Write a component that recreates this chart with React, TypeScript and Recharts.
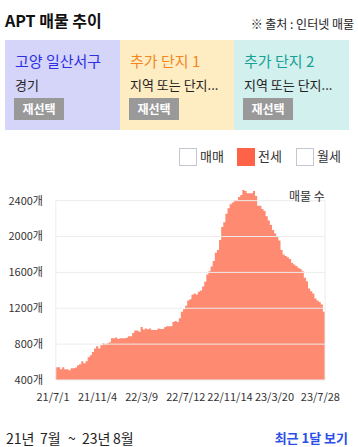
import { AreaChart, Area, XAxis, YAxis, ReferenceLine } from "recharts";

// listing counts, one sample every 6 days starting 21/7/9
const LISTING_COUNTS = [
  542, 542, 520, 542, 520, 520, 508, 530, 530, 540,
  564, 575, 608, 586, 608, 653, 675, 712, 750, 776,
  750, 787, 810, 800, 810, 820, 865, 865, 875, 857,
  866, 866, 866, 870, 888, 888, 925, 952, 952, 938,
  990, 962, 975, 966, 975, 958, 958, 958, 975, 970,
  970, 989, 1000, 1000, 1000, 1048, 1058, 1048, 1090, 1160,
  1190, 1227, 1287, 1300, 1350, 1365, 1354, 1383, 1398, 1443,
  1495, 1577, 1614, 1666, 1726, 1818, 1849, 1960, 2105, 2158,
  2254, 2314, 2359, 2380, 2407, 2407, 2440, 2463, 2519, 2508,
  2482, 2482, 2482, 2508, 2452, 2344, 2344, 2307, 2284, 2225,
  2180, 2128, 2072, 2035, 1997, 1957, 1849, 1800, 1782, 1770,
  1748, 1707, 1689, 1670, 1651, 1637, 1614, 1540, 1502, 1421,
  1391, 1365, 1309, 1287, 1271, 1242, 1160, 1137,
];
const FIRST_DAY = 8;
const DAY_STEP = 6;
const LAST_DAY = FIRST_DAY + DAY_STEP * (LISTING_COUNTS.length - 1);

// days counted from 21/7/1
const X_TICK_DAYS = [0, 126, 251, 376, 501, 627, 757];
const X_TICK_LABELS = ["21/7/1", "21/11/4", "22/3/9", "22/7/12", "22/11/14", "23/3/20", "23/7/28"];
const Y_TICKS = [400, 800, 1200, 1600, 2000, 2400];

const REGIONS = [
  { title: "고양 일산서구", sub: "경기", bg: "#d5d5fa", color: "#2e2ee6" },
  { title: "추가 단지 1", sub: "지역 또는 단지...", bg: "#feedc2", color: "#f5861f" },
  { title: "추가 단지 2", sub: "지역 또는 단지...", bg: "#d1f0ee", color: "#17a095" },
];
const DEAL_TYPES = [
  { label: "매매", checked: false },
  { label: "전세", checked: true },
  { label: "월세", checked: false },
];
const PERIOD_WORDS = ["21년", "7월", "~", "23년", "8월"];

const FONT = '"Noto Sans CJK KR", "Noto Sans", sans-serif';
const data = LISTING_COUNTS.map((count, i) => ({ day: FIRST_DAY + i * DAY_STEP, count }));

export default function App() {
  return (
    <div
      style={{
        position: "fixed",
        left: 0,
        top: 0,
        width: 358,
        height: 447,
        background: "#fff",
        fontFamily: FONT,
        color: "#222",
        overflow: "hidden",
      }}
    >
      <div style={{ position: "absolute", left: 5, top: 10, fontSize: 16, lineHeight: "20px", fontWeight: 700, color: "#111" }}>
        APT 매물 추이
      </div>
      <div style={{ position: "absolute", right: 4, top: 17, fontSize: 12, lineHeight: "14px" }}>
        ※ 출처 : 인터넷 매물
      </div>

      {REGIONS.map((r, i) => (
        <div
          key={r.title}
          style={{
            position: "absolute",
            left: [5, 120, 234][i],
            top: 40,
            width: i === 1 ? 114 : 115,
            height: 90,
            background: r.bg,
          }}
        >
          <div style={{ position: "absolute", left: 10, top: 12, fontSize: 15, lineHeight: "18px", color: r.color, whiteSpace: "nowrap" }}>
            {r.title}
          </div>
          <div style={{ position: "absolute", left: 10, top: 37, fontSize: 13, lineHeight: "15px", whiteSpace: "nowrap" }}>
            {r.sub}
          </div>
          <div
            style={{
              position: "absolute",
              left: 9,
              top: 58,
              width: 50,
              height: 22,
              background: "#999",
              color: "#fff",
              fontSize: 12,
              fontWeight: 700,
              lineHeight: "22px",
              textAlign: "center",
            }}
          >
            재선택
          </div>
        </div>
      ))}

      {DEAL_TYPES.map((d, i) => (
        <div key={d.label}>
          <div
            style={{
              position: "absolute",
              left: [179, 237, 296][i],
              top: 148,
              width: 14,
              height: 14,
              border: d.checked ? "1px solid #ff6347" : "1px solid #c5c6d0",
              padding: 1,
              boxSizing: "content-box",
              backgroundClip: "content-box",
              background: d.checked ? "#ff6347" : "#fff",
            }}
          />
          <div
            style={{
              position: "absolute",
              left: [200, 258, 317][i],
              top: 148,
              fontSize: 13,
              lineHeight: "16px",
              color: "#333",
            }}
          >
            {d.label}
          </div>
        </div>
      ))}

      <div style={{ position: "absolute", left: 0, top: 180 }}>
        <AreaChart width={358} height={230} data={data} margin={{ top: 9, right: 33, bottom: 0, left: 0 }}>
          <XAxis
            dataKey="day"
            type="number"
            domain={[0, LAST_DAY]}
            ticks={X_TICK_DAYS}
            interval={0}
            tickFormatter={(v: number) => X_TICK_LABELS[X_TICK_DAYS.indexOf(v)] ?? ""}
            axisLine={false}
            tickLine={false}
            tickMargin={7}
            height={30}
            tick={{ fontSize: 11, fill: "#333", fontFamily: FONT }}
          />
          <YAxis
            type="number"
            domain={[400, 2530]}
            ticks={Y_TICKS}
            interval={0}
            tickFormatter={(v: number) => `${v}개`}
            axisLine={false}
            tickLine={false}
            tickMargin={4}
            width={53}
            tick={{ fontSize: 11, fill: "#333", fontFamily: FONT }}
          />
          {Y_TICKS.map((v) => (
            <ReferenceLine
              key={v}
              segment={[
                { x: FIRST_DAY, y: v },
                { x: LAST_DAY, y: v },
              ]}
              stroke="#ececec"
            />
          ))}
          {[FIRST_DAY, LAST_DAY].map((d) => (
            <ReferenceLine
              key={"v" + d}
              segment={[
                { x: d, y: 400 },
                { x: d, y: 2400 },
              ]}
              stroke="#ececec"
            />
          ))}
          <Area
            dataKey="count"
            type="stepAfter"
            fill="#ff8a72"
            fillOpacity={1}
            stroke="none"
            dot={false}
            activeDot={false}
            isAnimationActive={false}
          />
        </AreaChart>
      </div>

      <div style={{ position: "absolute", left: 289, top: 188, fontSize: 12, lineHeight: "15px", color: "#333" }}>
        매물 수
      </div>

      {PERIOD_WORDS.map((w, i) => (
        <div
          key={w + i}
          style={{
            position: "absolute",
            left: [6, 40, 68, 82, 113][i],
            top: 430,
            fontSize: 14,
            lineHeight: "16px",
            color: "#222",
            whiteSpace: "nowrap",
          }}
        >
          {w}
        </div>
      ))}
      <div style={{ position: "absolute", right: 10, top: 430, fontSize: 13, lineHeight: "16px", color: "#2b4fe8", fontWeight: 700 }}>
        최근 1달 보기
      </div>
    </div>
  );
}
